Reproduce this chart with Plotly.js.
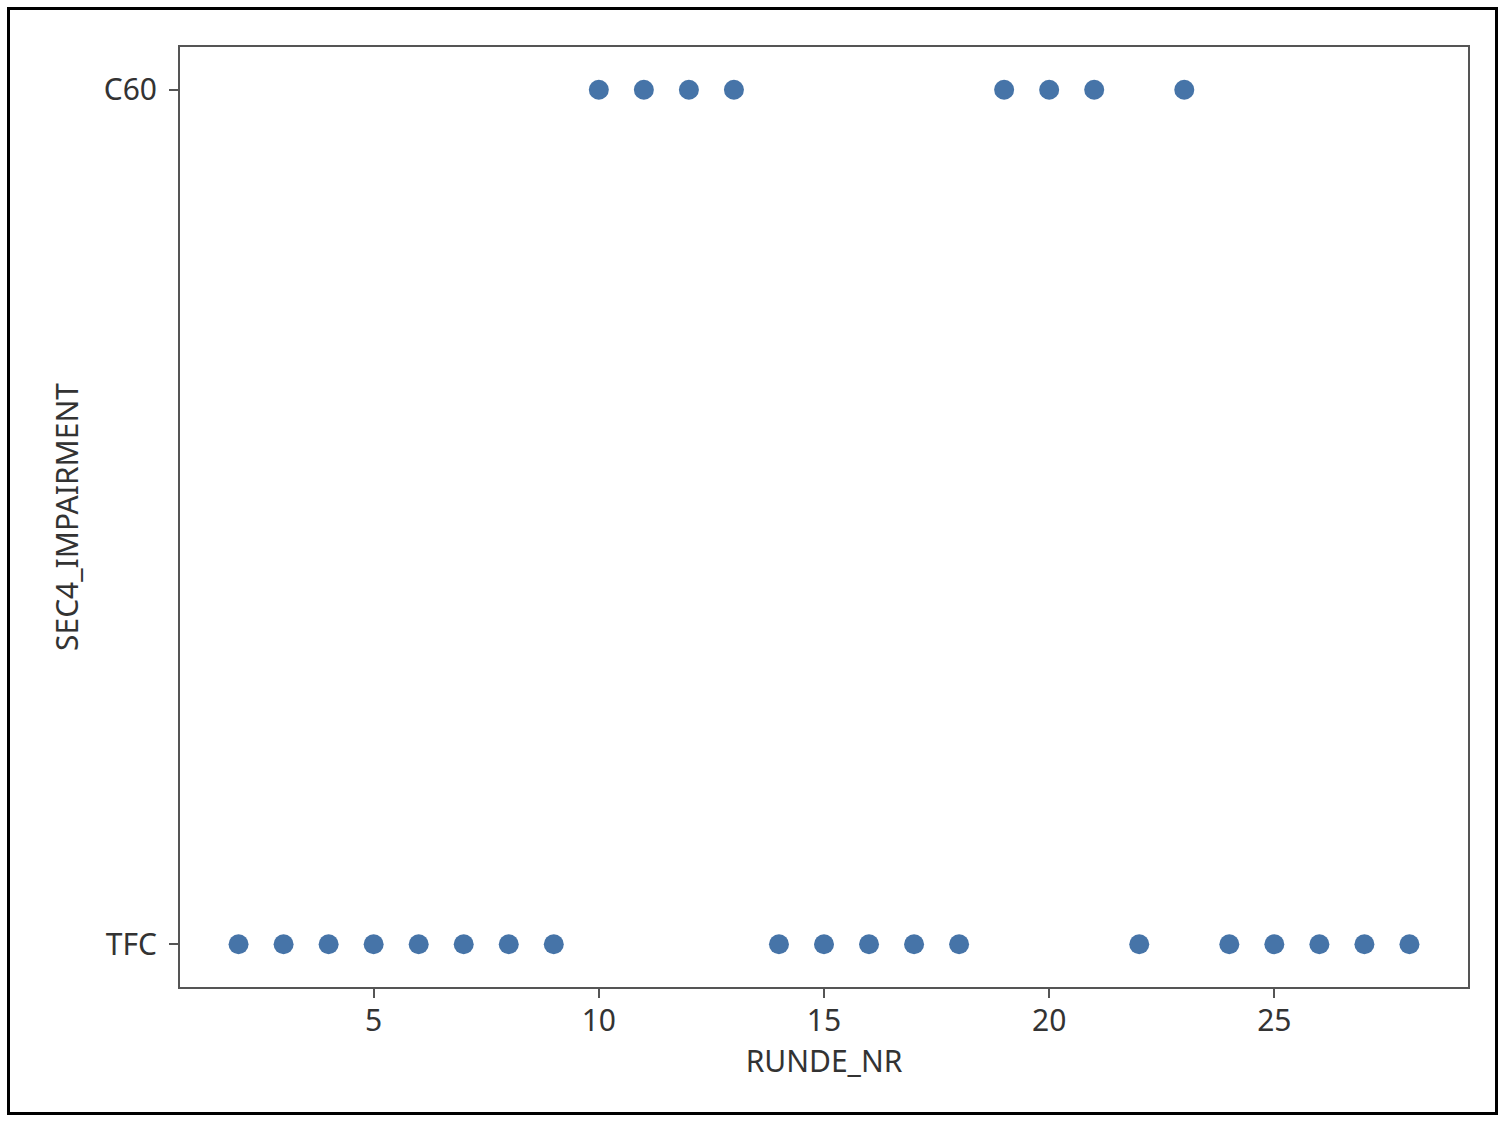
<!DOCTYPE html>
<html>
<head>
<meta charset="utf-8">
<script src="https://cdn.plot.ly/plotly-3.0.1.min.js"></script>
<style>
  body { margin: 0; background: #fff; }
  #box { width: 1506px; height: 1124px; }
  #frame {
    position: absolute; left: 7px; top: 7px; width: 1491px; height: 1108px;
    border: 3px solid #000; box-sizing: border-box; pointer-events: none;
  }
</style>
</head>
<body>
<div id="box"></div>
<div id="frame"></div>
<script>
'use strict'

var rounds = [2, 3, 4, 5, 6, 7, 8, 9, 10, 11, 12, 13, 14, 15, 16, 17, 18, 19, 20, 21, 22, 23, 24, 25, 26, 27, 28];
var impairment = ['TFC', 'TFC', 'TFC', 'TFC', 'TFC', 'TFC', 'TFC', 'TFC',
                  'C60', 'C60', 'C60', 'C60',
                  'TFC', 'TFC', 'TFC', 'TFC', 'TFC',
                  'C60', 'C60', 'C60',
                  'TFC', 'C60',
                  'TFC', 'TFC', 'TFC', 'TFC', 'TFC'];
var categories = ['TFC', 'C60'];

var pointsTrace = {
    type: 'scatter',
    mode: 'markers',
    x: rounds,
    y: impairment,
    marker: {size: 20, color: '#4674a8'},
    hoverinfo: 'x+y'
}

var axisFont = {family: 'Noto Sans, DejaVu Sans, sans-serif', size: 30, color: '#333'};

var layout = {
    width: 1506,
    height: 1124,
    margin: {l: 180, r: 38, t: 47, b: 137},
    paper_bgcolor: '#fff',
    plot_bgcolor: '#fff',
    showlegend: false,
    font: axisFont,
    xaxis: {
        range: [0.7, 29.3],
        tick0: 0,
        dtick: 5,
        showgrid: false,
        zeroline: false,
        showline: true,
        mirror: true,
        linecolor: '#555',
        linewidth: 2,
        ticks: 'outside',
        ticklen: 9,
        tickwidth: 2,
        tickcolor: '#555',
        ticklabelstandoff: -3,
        tickfont: axisFont,
        title: {text: 'RUNDE_NR', font: axisFont, standoff: 10}
    },
    yaxis: {
        type: 'category',
        categoryorder: 'array',
        categoryarray: categories,
        range: [-0.05, 1.05],
        showgrid: false,
        zeroline: false,
        showline: true,
        mirror: true,
        linecolor: '#555',
        linewidth: 2,
        ticks: 'outside',
        ticklen: 9,
        tickwidth: 2,
        tickcolor: '#555',
        ticklabelstandoff: 6,
        tickfont: axisFont,
        title: {text: 'SEC4_IMPAIRMENT', font: axisFont, standoff: 16}
    }
};

Plotly.newPlot('box', [pointsTrace], layout, {displayModeBar: false});
</script>
</body>
</html>
